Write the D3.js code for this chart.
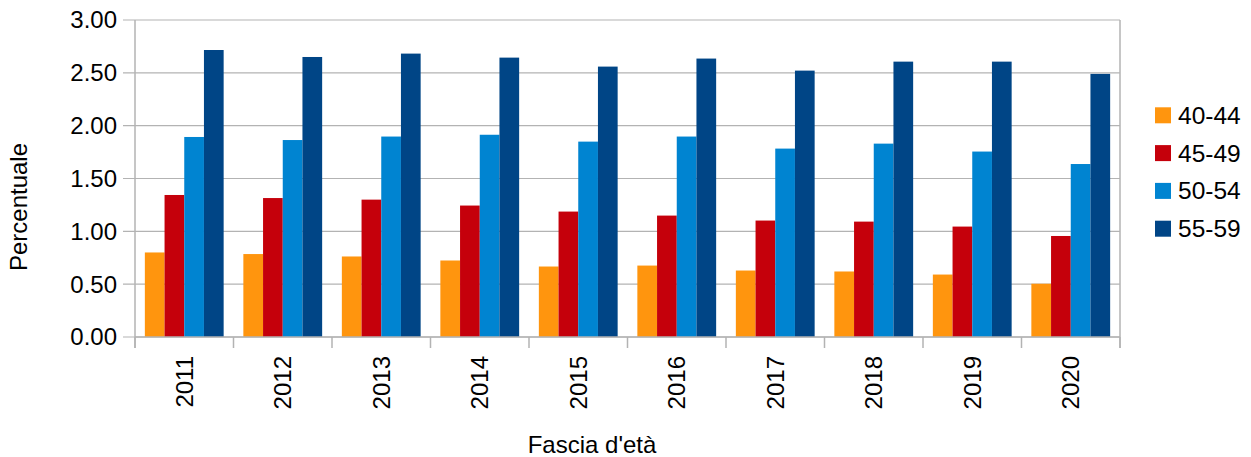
<!DOCTYPE html>
<html><head><meta charset="utf-8">
<script src="https://cdn.jsdelivr.net/npm/d3@7"></script>
<style>body{margin:0;background:#fff}svg{display:block;font-family:"Liberation Sans",Arial,sans-serif}</style>
</head><body><svg id="c" width="1251" height="457"></svg>
<script>
const years = ["2011","2012","2013","2014","2015","2016","2017","2018","2019","2020"];
const seriesNames = ["40-44","45-49","50-54","55-59"];
const s4044 = [0.80,0.785,0.762,0.724,0.667,0.676,0.629,0.62,0.591,0.504];
const s4549 = [1.344,1.315,1.30,1.244,1.187,1.149,1.102,1.092,1.045,0.956];
const s5054 = [1.893,1.864,1.897,1.914,1.849,1.897,1.783,1.83,1.755,1.637];
const s5559 = [2.716,2.65,2.682,2.644,2.559,2.635,2.521,2.606,2.606,2.49];
const yTicks = [0,0.5,1,1.5,2,2.5,3];
const colors = ["#ff950e","#c5000b","#0084d1","#004586"];
const allSeries = [s4044,s4549,s5054,s5559];

const svg = d3.select("#c");
const L=135, R=1120, T=20, B=337;
const x0 = d3.scaleBand().domain(years).range([L,R]);
const bw = x0.bandwidth();
const x1 = d3.scaleBand().domain(seriesNames).range([bw*0.1, bw*0.9]);
const y = d3.scaleLinear().domain([0,3]).range([B,T]);
const grid="#b3b3b3";

// gridlines + left ticks
svg.append("g").selectAll("line").data(yTicks).join("line")
  .attr("x1",123).attr("x2",R).attr("y1",d=>y(d)).attr("y2",d=>y(d))
  .attr("stroke",grid).attr("stroke-width",1.2);
svg.append("g").selectAll("text").data(yTicks).join("text")
  .attr("x",117).attr("y",d=>y(d)).attr("dy","0.35em").attr("text-anchor","end")
  .attr("font-size",24).attr("fill","#000").text(d=>d3.format(".2f")(d));

// bars
const g = svg.append("g");
seriesNames.forEach((s,si)=>{
  g.append("g").attr("fill",colors[si]).selectAll("rect").data(years).join("rect")
   .attr("x",d=>x0(d)+x1(s)).attr("width",x1.bandwidth())
   .attr("y",(d,i)=>y(allSeries[si][i])).attr("height",(d,i)=>B-y(allSeries[si][i]));
});

// axes lines
svg.append("line").attr("x1",L).attr("x2",L).attr("y1",T).attr("y2",348).attr("stroke",grid).attr("stroke-width",1.5);
svg.append("line").attr("x1",R).attr("x2",R).attr("y1",T).attr("y2",348).attr("stroke",grid).attr("stroke-width",1.5);
svg.append("line").attr("x1",L).attr("x2",R).attr("y1",B).attr("y2",B).attr("stroke",grid).attr("stroke-width",1.5);
const bounds = years.map(d=>x0(d)).concat([R]);
svg.append("g").selectAll("line").data(bounds).join("line")
  .attr("x1",d=>d).attr("x2",d=>d).attr("y1",B).attr("y2",348).attr("stroke",grid).attr("stroke-width",1.5);

// year labels
svg.append("g").selectAll("text").data(years).join("text")
  .attr("transform",d=>`translate(${x0(d)+bw/2},356) rotate(-90)`)
  .attr("dy","0.35em").attr("text-anchor","end").attr("font-size",24).text(d=>d);

// axis titles
svg.append("text").attr("transform","translate(27,207) rotate(-90)").attr("text-anchor","middle")
  .attr("font-size",24).text("Percentuale");
svg.append("text").attr("x",592).attr("y",453).attr("text-anchor","middle").attr("font-size",24).text("Fascia d'età");

// legend
const lg = svg.append("g").selectAll("g").data(seriesNames).join("g")
  .attr("transform",(d,i)=>`translate(1155,${115.3+i*37.8})`);
lg.append("rect").attr("x",0).attr("y",-8).attr("width",16).attr("height",16).attr("fill",(d,i)=>colors[i]);
lg.append("text").attr("x",23).attr("y",0).attr("dy","0.35em").attr("font-size",24.5).text(d=>d);
</script></body></html>
